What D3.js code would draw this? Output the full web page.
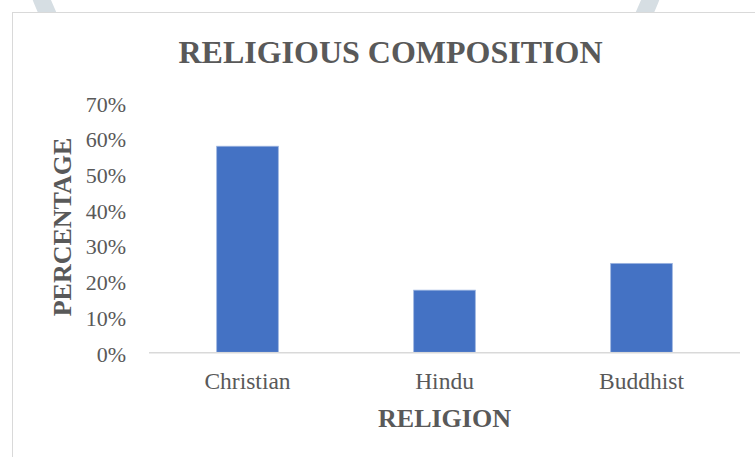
<!DOCTYPE html>
<html>
<head>
<meta charset="utf-8">
<script src="https://cdn.jsdelivr.net/npm/d3@7/dist/d3.min.js"></script>
<style>
  html, body { margin: 0; padding: 0; background: #ffffff; }
  svg { display: block; }
  text { font-family: "Liberation Serif", "Times New Roman", serif; }
</style>
</head>
<body>
<svg id="chart" width="755" height="457"></svg>
<script>
const categories = ["Christian", "Hindu", "Buddhist"];
const values = [57.7, 17.4, 24.9];
const yTicks = [0, 10, 20, 30, 40, 50, 60, 70];
const title = "RELIGIOUS COMPOSITION";
const xTitle = "RELIGION";
const yTitle = "PERCENTAGE";

const svg = d3.select("#chart");
const W = 755, H = 457;

// faint background watermark ring (page decoration)
svg.append("circle")
  .attr("cx", 346).attr("cy", -120).attr("r", 327)
  .attr("fill", "none").attr("stroke", "#d6dee3").attr("stroke-width", 17);

// chart area
svg.append("rect")
  .attr("x", 12.5).attr("y", 12.5)
  .attr("width", W).attr("height", H)
  .attr("fill", "#ffffff").attr("stroke", "#d9d9d9").attr("stroke-width", 1);

const plot = { left: 149, right: 740, top: 102.3, bottom: 352.3 };

const x = d3.scaleBand()
  .domain(categories)
  .range([plot.left, plot.right])
  .paddingInner(0.687)
  .paddingOuter(0.3435);

const y = d3.scaleLinear()
  .domain([0, 70])
  .range([plot.bottom, plot.top]);

// bars
svg.append("g").selectAll("rect")
  .data(categories)
  .join("rect")
  .attr("x", d => x(d))
  .attr("y", (d, i) => y(values[i]))
  .attr("width", x.bandwidth())
  .attr("height", (d, i) => y(0) - y(values[i]))
  .attr("fill", "#4472c4")
  .attr("stroke", "#9db5e0")
  .attr("stroke-width", 0.8);

// x axis line
svg.append("line")
  .attr("x1", plot.left).attr("x2", plot.right)
  .attr("y1", y(0) + 0.5).attr("y2", y(0) + 0.5)
  .attr("stroke", "#d9d9d9").attr("stroke-width", 1.5);

// y axis tick labels
const yAxis = d3.axisLeft(y)
  .tickValues(yTicks)
  .tickFormat(d => d + "%")
  .tickSize(0)
  .tickPadding(0);
const gy = svg.append("g")
  .attr("transform", `translate(126,0)`)
  .call(yAxis);
gy.select(".domain").remove();
gy.selectAll("text")
  .attr("fill", "#595959")
  .attr("font-size", "22px")
  .attr("font-family", "Liberation Serif, Times New Roman, serif")
  .attr("dy", "0.4em");

// x axis category labels
const xAxis = d3.axisBottom(x).tickSize(0).tickPadding(0);
const gx = svg.append("g")
  .attr("transform", `translate(0,${y(0)})`)
  .call(xAxis);
gx.select(".domain").remove();
gx.selectAll("text")
  .attr("fill", "#595959")
  .attr("font-size", "23.5px")
  .attr("font-family", "Liberation Serif, Times New Roman, serif")
  .attr("dy", "0")
  .attr("y", 37);

// title
svg.append("text")
  .attr("x", 390.5).attr("y", 63)
  .attr("text-anchor", "middle")
  .attr("font-size", "32px")
  .attr("font-weight", "bold")
  .attr("fill", "#595959")
  .text(title);

// x axis title
svg.append("text")
  .attr("x", 444.5).attr("y", 427)
  .attr("text-anchor", "middle")
  .attr("font-size", "26px")
  .attr("font-weight", "bold")
  .attr("fill", "#595959")
  .text(xTitle);

// y axis title
svg.append("text")
  .attr("transform", "translate(71,227) rotate(-90)")
  .attr("text-anchor", "middle")
  .attr("font-size", "26px")
  .attr("font-weight", "bold")
  .attr("fill", "#595959")
  .text(yTitle);
</script>
</body>
</html>
